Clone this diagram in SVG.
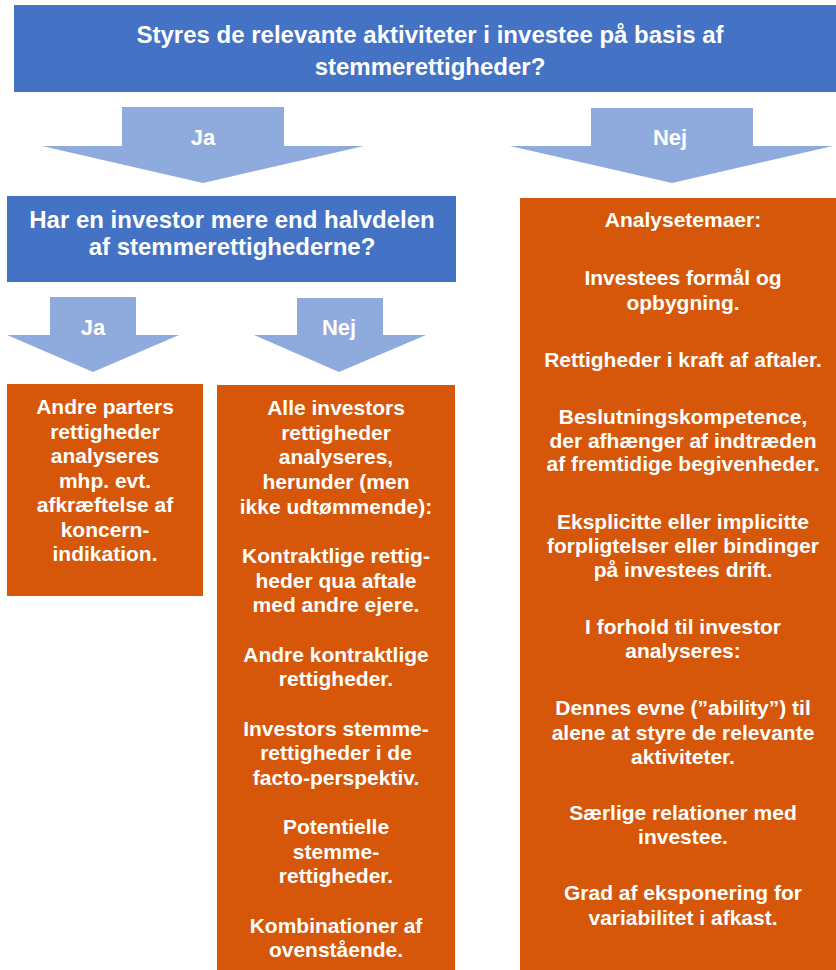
<svg xmlns="http://www.w3.org/2000/svg" width="836" height="970" viewBox="0 0 836 970">
<style>
.blue{fill:#4472C4}
.orange{fill:#D6570A}
.arrow{fill:#8FAADC}
text{font-family:"Liberation Sans",Arial,sans-serif;font-weight:bold;fill:#FFFFFF;text-anchor:middle}
.t24{font-size:24px}
.t21{font-size:21px}
.lbl{font-size:22px}
</style>
<rect width="836" height="970" fill="#FFFFFF"/>
<g id="q1">
<rect class="blue" x="14" y="5" width="822" height="87"/>
<text class="t24"><tspan x="430" y="43">Styres de relevante aktiviteter i investee på basis af</tspan><tspan x="430" y="75">stemmerettigheder?</tspan></text>
</g>
<g id="q2">
<rect class="blue" x="7" y="196" width="449" height="86"/>
<text class="t24"><tspan x="232" y="228">Har en investor mere end halvdelen</tspan><tspan x="232" y="255">af stemmerettighederne?</tspan></text>
</g>
<g id="boxA">
<rect class="orange" x="7" y="384" width="196" height="212"/>
<text class="t21"><tspan x="105" y="414">Andre parters</tspan><tspan x="105" y="438.5">rettigheder</tspan><tspan x="105" y="463">analyseres</tspan><tspan x="105" y="487.5">mhp. evt.</tspan><tspan x="105" y="512">afkræftelse af</tspan><tspan x="105" y="536.5">koncern-</tspan><tspan x="105" y="561">indikation.</tspan></text>
</g>
<g id="boxB">
<rect class="orange" x="217" y="385" width="238" height="585"/>
<text class="t21"><tspan x="336" y="415">Alle investors</tspan><tspan x="336" y="439.6">rettigheder</tspan><tspan x="336" y="464.3">analyseres,</tspan><tspan x="336" y="489">herunder (men</tspan><tspan x="336" y="513.6">ikke udtømmende):</tspan><tspan x="336" y="562.9">Kontraktlige rettig-</tspan><tspan x="336" y="587.6">heder qua aftale</tspan><tspan x="336" y="612.2">med andre ejere.</tspan><tspan x="336" y="661.5">Andre kontraktlige</tspan><tspan x="336" y="686.2">rettigheder.</tspan><tspan x="336" y="735.5">Investors stemme-</tspan><tspan x="336" y="760.1">rettigheder i de</tspan><tspan x="336" y="784.8">facto-perspektiv.</tspan><tspan x="336" y="834">Potentielle</tspan><tspan x="336" y="858.7">stemme-</tspan><tspan x="336" y="883.4">rettigheder.</tspan><tspan x="336" y="932.7">Kombinationer af</tspan><tspan x="336" y="957.3">ovenstående.</tspan></text>
</g>
<g id="boxC">
<rect class="orange" x="520" y="198" width="316" height="772"/>
<text class="t21"><tspan x="683" y="227">Analysetemaer:</tspan><tspan x="683" y="285">Investees formål og</tspan><tspan x="683" y="310">opbygning.</tspan><tspan x="683" y="367">Rettigheder i kraft af aftaler.</tspan><tspan x="683" y="424">Beslutningskompetence,</tspan><tspan x="683" y="447.5">der afhænger af indtræden</tspan><tspan x="683" y="471">af fremtidige begivenheder.</tspan><tspan x="683" y="529">Eksplicitte eller implicitte</tspan><tspan x="683" y="553">forpligtelser eller bindinger</tspan><tspan x="683" y="577">på investees drift.</tspan><tspan x="683" y="634">I forhold til investor</tspan><tspan x="683" y="658">analyseres:</tspan><tspan x="683" y="715">Dennes evne (”ability”) til</tspan><tspan x="683" y="739.5">alene at styre de relevante</tspan><tspan x="683" y="764">aktiviteter.</tspan><tspan x="683" y="820">Særlige relationer med</tspan><tspan x="683" y="844">investee.</tspan><tspan x="683" y="900">Grad af eksponering for</tspan><tspan x="683" y="924.5">variabilitet i afkast.</tspan></text>
</g>
<g id="connectors">
<g id="arrow-ja-1">
<polygon class="arrow" points="122,107 284,107 284,146 364,146 203,183 42,146 122,146"/>
<text class="lbl" x="203" y="145">Ja</text>
</g>
<g id="arrow-nej-1">
<polygon class="arrow" points="591,108 753,108 753,146 833,146 672,183 510,146 591,146"/>
<text class="lbl" x="670" y="145">Nej</text>
</g>
<g id="arrow-ja-2">
<polygon class="arrow" points="50,297 136,297 136,335 179,335 93,372 7,335 50,335"/>
<text class="lbl" x="93" y="335">Ja</text>
</g>
<g id="arrow-nej-2">
<polygon class="arrow" points="297,298 383,298 383,335 426,335 339,372 254,335 297,335"/>
<text class="lbl" x="339" y="335">Nej</text>
</g>
</g>
</svg>
